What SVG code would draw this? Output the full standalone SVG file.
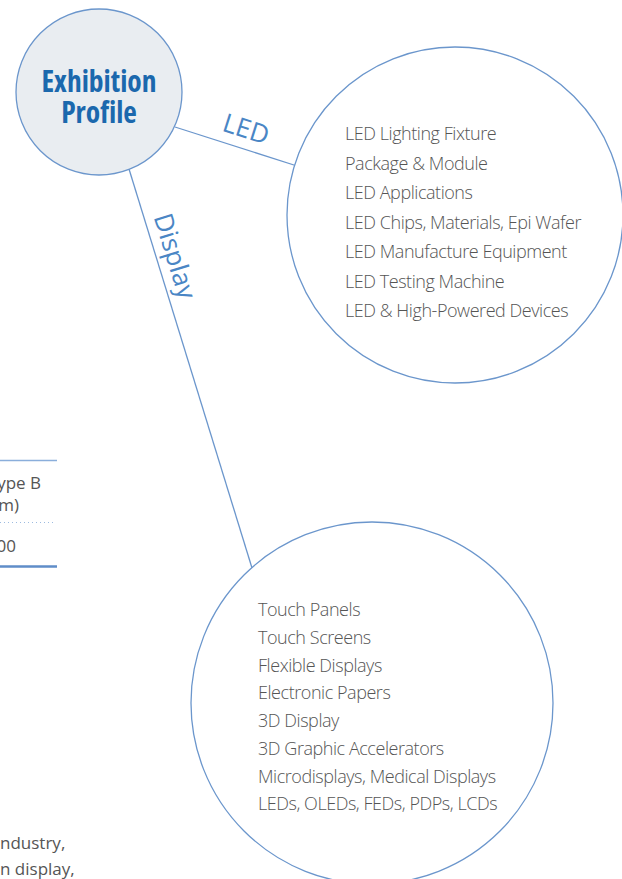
<svg xmlns="http://www.w3.org/2000/svg" width="622" height="879" viewBox="0 0 622 879">
<style>
.ring{fill:#ffffff;stroke:#6b96cc;stroke-width:1.3}
.hub{fill:#e9edf1;stroke:#6b96cc;stroke-width:1.3}
.conn{stroke:#6b96cc;stroke-width:1.3;fill:none}
.title{font-family:"Open Sans","Noto Sans",sans-serif;font-weight:700;font-size:29.5px;fill:#1b68ad;font-stretch:87.5%}
.lbl{font-family:"Open Sans","Noto Sans",sans-serif;font-weight:400;font-size:26px;fill:#4a86c5}
.item{font-family:"Open Sans","Noto Sans",sans-serif;font-weight:300;font-size:18px;letter-spacing:-0.45px;fill:#555555}
.frag{font-family:"Open Sans","Noto Sans",sans-serif;font-weight:400;font-size:17px;fill:#555555}
</style>
<rect width="622" height="879" fill="#ffffff"/>
<g id="table-fragment">
<line x1="0" y1="460.5" x2="57" y2="460.5" stroke="#8aaedb" stroke-width="1.5"/>
<text class="frag" x="41" y="489" text-anchor="end">ype B</text>
<text class="frag" x="19" y="511" text-anchor="end">m)</text>
<line x1="0" y1="522.5" x2="55" y2="522.5" stroke="#9dbbe0" stroke-width="1" stroke-dasharray="1 3"/>
<text class="frag" x="16" y="552" text-anchor="end">00</text>
<line x1="0" y1="566.5" x2="57" y2="566.5" stroke="#5f8dc8" stroke-width="2.5"/>
</g>
<g id="body-text-fragment">
<text class="frag" x="0" y="849">ndustry,</text>
<text class="frag" x="0" y="875">n display,</text>
</g>
<g id="connectors">
<line class="conn" x1="175" y1="127" x2="297" y2="166"/>
<line class="conn" x1="129" y1="169" x2="252" y2="568"/>
<text class="lbl" text-anchor="middle" transform="translate(246,129) rotate(17.7)" y="9">LED</text>
<text class="lbl" text-anchor="middle" transform="translate(175,256) rotate(73)" y="9">Display</text>
</g>
<g id="led-node">
<circle class="ring" cx="455" cy="215" r="168"/>
<text class="item" x="345" y="140">LED Lighting Fixture</text>
<text class="item" x="345" y="169.5">Package &amp; Module</text>
<text class="item" x="345" y="199">LED Applications</text>
<text class="item" x="345" y="228.5">LED Chips, Materials, Epi Wafer</text>
<text class="item" x="345" y="258">LED Manufacture Equipment</text>
<text class="item" x="345" y="287.5">LED Testing Machine</text>
<text class="item" x="345" y="317">LED &amp; High-Powered Devices</text>
</g>
<g id="display-node">
<circle class="ring" cx="372" cy="703" r="181"/>
<text class="item" x="258" y="616">Touch Panels</text>
<text class="item" x="258" y="644">Touch Screens</text>
<text class="item" x="258" y="671.5">Flexible Displays</text>
<text class="item" x="258" y="699">Electronic Papers</text>
<text class="item" x="258" y="727">3D Display</text>
<text class="item" x="258" y="755">3D Graphic Accelerators</text>
<text class="item" x="258" y="782.5">Microdisplays, Medical Displays</text>
<text class="item" x="258" y="810">LEDs, OLEDs, FEDs, PDPs, LCDs</text>
</g>
<g id="hub-node">
<circle class="hub" cx="99" cy="92" r="83"/>
<text class="title" x="99" y="92" text-anchor="middle">Exhibition</text>
<text class="title" x="99" y="123" text-anchor="middle">Profile</text>
</g>
</svg>
